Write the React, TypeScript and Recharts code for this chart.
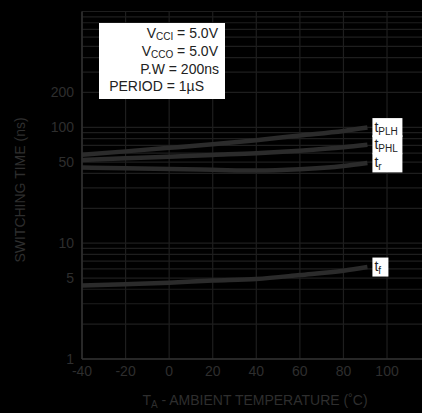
import React from 'react';
import { LineChart, Line, XAxis, YAxis, CartesianGrid, ReferenceLine, Customized } from 'recharts';

const temps = [-40, -20, 0, 20, 40, 60, 80, 91];
const tPLH = [58, 62, 66.5, 71.5, 77.5, 85, 93, 99.5];
const tPHL = [52.3, 54, 55.8, 57.8, 59.8, 62.9, 67.3, 70.8];
const tR = [44.9, 44.3, 43.7, 43, 42.3, 43.5, 46.4, 49.3];
const tF = [4.3, 4.42, 4.56, 4.75, 4.91, 5.31, 5.79, 6.22];

const xTicks = [-40, -20, 0, 20, 40, 60, 80, 100];
const yTicks = [1, 5, 10, 50, 100, 200];
const yGrid = [1, 2, 3, 4, 5, 6, 7, 8, 9, 10, 20, 30, 40, 50, 60, 70, 80, 90, 100, 200, 300, 400, 500, 600, 700, 800, 900, 1000];

const data = temps.map((t, i) => ({ t, plh: tPLH[i], phl: tPHL[i], tr: tR[i], tf: tF[i] }));

const FONT = '"Liberation Sans", Arial, Helvetica, sans-serif';
const TXT = '#2e2e2e';
const GRID = '#1e1e1e';
const AXIS = '#303030';
const CURVE = '#2b2b2b';
const LAST = temps.length - 1;

const makeLabel = (main: string, sub: string, boxW: number) => (props: any) => {
  const { x, y, index } = props;
  if (index !== LAST) return null;
  return (
    <g>
      <rect x={x + 5} y={y - 9.5} width={boxW} height={19} fill="#fff" />
      <text x={x + 7} y={y + 4} fontFamily={FONT} fontSize={14} fill="#222222" stroke="none">
        {main}
        <tspan fontSize={10} dy={3}>{sub}</tspan>
      </text>
    </g>
  );
};

const Annotation = () => (
  <svg width={422} height={413} style={{ position: 'absolute', left: 0, top: 0, pointerEvents: 'none' }}>
    <g fontFamily={FONT} fill="#222">
      <rect x={99} y={23} width={126} height={76} fill="#fff" />
      <text x={218} y={38} fontSize={14} textAnchor="end">
        V<tspan fontSize={10} dy={2}>CCI</tspan><tspan dy={-2}> = 5.0V</tspan>
      </text>
      <text x={218} y={56} fontSize={14} textAnchor="end">
        V<tspan fontSize={10} dy={2}>CCO</tspan><tspan dy={-2}> = 5.0V</tspan>
      </text>
      <text x={219} y={73.5} fontSize={14} textAnchor="end">P.W = 200ns</text>
      <text x={204} y={91} fontSize={14} textAnchor="end">PERIOD = 1µS</text>
    </g>
  </svg>
);

const Titles = () => (
  <g fontFamily={FONT} fill={TXT} fontSize={14}>
    <text x={255} y={405} textAnchor="middle">
      T<tspan fontSize={10} dy={3}>A</tspan><tspan dy={-3}> - AMBIENT  TEMPERATURE (˚C)</tspan>
    </text>
    <text x={25} y={190} textAnchor="middle" transform="rotate(-90, 25, 190)">SWITCHING TIME (ns)</text>
  </g>
);

export default function App() {
  return (
    <div style={{ position: 'fixed', left: 0, top: 0, width: 422, height: 413, background: '#000', overflow: 'hidden' }}>
      <LineChart width={440} height={413} data={data} margin={{ top: 11.5, right: 9.4, left: 0, bottom: 0 }}>
        <CartesianGrid horizontal={false} stroke={GRID} strokeWidth={1.2} />
        {yGrid.map((v) => (
          <ReferenceLine key={v} y={v} stroke={GRID} strokeWidth={1.2} />
        ))}
        <XAxis
          dataKey="t"
          type="number"
          domain={[-40, 120]}
          ticks={xTicks}
          height={54}
          tickSize={0}
          tickMargin={7}
          tick={{ fill: TXT, fontSize: 14, fontFamily: FONT }}
          axisLine={{ stroke: AXIS, strokeWidth: 1.5 }}
          tickLine={false}
          interval={0}
        />
        <YAxis
          scale="log"
          domain={[1, 1000]}
          allowDataOverflow
          ticks={yTicks}
          width={82}
          tickSize={0}
          tickMargin={8}
          tick={{ fill: TXT, fontSize: 14, fontFamily: FONT }}
          axisLine={{ stroke: AXIS, strokeWidth: 1.5 }}
          tickLine={false}
          interval={0}
        />
        <Line dataKey="plh" type="monotone" stroke={CURVE} strokeWidth={4.5} dot={false} isAnimationActive={false} label={makeLabel('t', 'PLH', 30)} />
        <Line dataKey="phl" type="monotone" stroke={CURVE} strokeWidth={4.5} dot={false} isAnimationActive={false} label={makeLabel('t', 'PHL', 30)} />
        <Line dataKey="tr" type="monotone" stroke={CURVE} strokeWidth={4.5} dot={false} isAnimationActive={false} label={makeLabel('t', 'r', 30)} />
        <Line dataKey="tf" type="monotone" stroke={CURVE} strokeWidth={4.5} dot={false} isAnimationActive={false} label={makeLabel('t', 'f', 16)} />
        <Customized component={Titles} />
      </LineChart>
      <Annotation />
    </div>
  );
}
